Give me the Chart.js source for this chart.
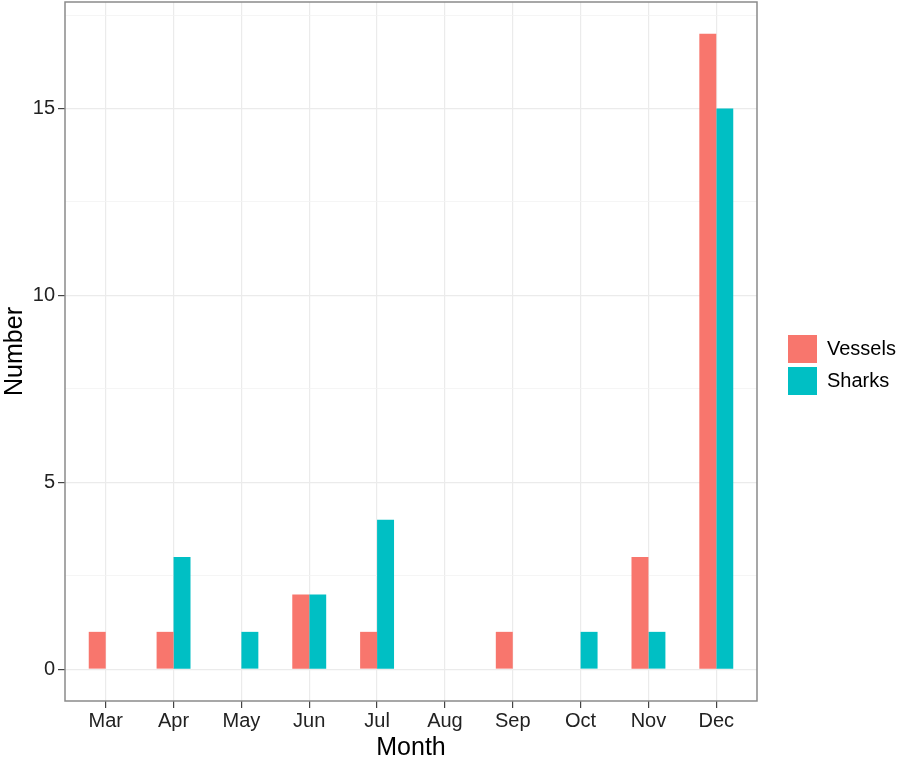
<!DOCTYPE html>
<html>
<head>
<meta charset="utf-8">
<script src="https://cdn.jsdelivr.net/npm/chart.js@4.4.0/dist/chart.umd.min.js"></script>
<style>
  html, body { margin: 0; padding: 0; background: #fff; }
</style>
</head>
<body>
<canvas id="chart" width="901" height="760"></canvas>
<script>
// data
const months = ["Mar", "Apr", "May", "Jun", "Jul", "Aug", "Sep", "Oct", "Nov", "Dec"];
const vessels = [1, 1, 0, 2, 1, 0, 1, 0, 3, 17];
const sharks = [0, 3, 1, 2, 4, 0, 0, 1, 1, 15];
const yTicks = [0, 5, 10, 15];
const yMinor = [2.5, 7.5, 12.5, 17.5];

const FONT = "'Liberation Sans', Arial, Helvetica, sans-serif";
Chart.defaults.font.family = FONT;

const isMajor = v => yTicks.includes(v);

// legend sits a bit away from the panel, like ggplot
const legendSpot = {
  id: "legendSpot",
  beforeLayout(chart) {
    const lg = chart.legend;
    if (lg && !lg._patched) {
      const fit = lg.fit;
      lg.fit = function () { fit.call(this); this.width = 144; };
      lg._patched = true;
    }
  },
  afterLayout(chart) {
    const lg = chart.legend;
    if (!lg) return;
    lg.left += 27; lg.right += 27;
    lg.top -= 16; lg.bottom -= 16;
  }
};

// panel border (theme_bw)
const frame = {
  id: "frame",
  afterDatasetsDraw(chart) {
    const { ctx, chartArea: a } = chart;
    ctx.save();
    ctx.strokeStyle = "#8a8a8a";
    ctx.lineWidth = 1.5;
    ctx.strokeRect(a.left, a.top, a.right - a.left, a.bottom - a.top);
    ctx.restore();
  }
};

new Chart(document.getElementById("chart"), {
  type: "bar",
  data: {
    datasets: [
      {
        label: "Vessels",
        data: months.map((m, i) => ({ x: i + 1, y: vessels[i] })),
        backgroundColor: "#F8766D",
        borderWidth: 0,
        categoryPercentage: 0.5,
        barPercentage: 1
      },
      {
        label: "Sharks",
        data: months.map((m, i) => ({ x: i + 1, y: sharks[i] })),
        backgroundColor: "#00BFC4",
        borderWidth: 0,
        categoryPercentage: 0.5,
        barPercentage: 1
      }
    ]
  },
  options: {
    responsive: false,
    animation: false,
    layout: { padding: { left: 0, right: 0, top: 2, bottom: 0 } },
    plugins: {
      tooltip: { enabled: false },
      legend: {
        position: "right",
        labels: {
          boxWidth: 29,
          boxHeight: 28,
          padding: 4,
          color: "#000",
          font: { size: 20 }
        }
      }
    },
    scales: {
      x: {
        type: "linear",
        min: 0.4,
        max: 10.6,
        offset: false,
        afterBuildTicks: s => { s.ticks = months.map((m, i) => ({ value: i + 1 })); },
        afterFit: s => { s.height = 59; s.paddingLeft = 0; s.paddingRight = 0; },
        ticks: {
          callback: v => months[v - 1],
          autoSkip: false,
          maxRotation: 0,
          padding: 1,
          color: "#222",
          font: { size: 20 }
        },
        grid: { offset: false, color: "#ebebeb", lineWidth: 1.2, tickColor: "#444", tickLength: 7, tickWidth: 1.2 },
        border: { display: false },
        title: { display: true, text: "Month", color: "#000", font: { size: 25 }, padding: { top: 0, bottom: -3 } }
      },
      y: {
        min: -0.85,
        max: 17.85,
        afterBuildTicks: s => {
          s.ticks = yTicks.concat(yMinor).sort((a, b) => a - b).map(v => ({ value: v }));
        },
        afterFit: s => { s.width = 65; s.paddingTop = 0; s.paddingBottom = 0; },
        ticks: {
          callback: v => (isMajor(v) ? String(v) : ""),
          autoSkip: false,
          padding: 3,
          color: "#222",
          font: { size: 20 }
        },
        grid: {
          color: c => (isMajor(c.tick.value) ? "#ebebeb" : "#f2f2f2"),
          lineWidth: c => (isMajor(c.tick.value) ? 1.2 : 0.8),
          tickColor: c => (isMajor(c.tick.value) ? "#444" : "rgba(0,0,0,0)"),
          tickLength: 7,
          tickWidth: 1.2
        },
        border: { display: false },
        title: { display: true, text: "Number", color: "#000", font: { size: 25 }, padding: { top: 0, bottom: 0 } }
      }
    }
  },
  plugins: [legendSpot, frame]
});
</script>
</body>
</html>
